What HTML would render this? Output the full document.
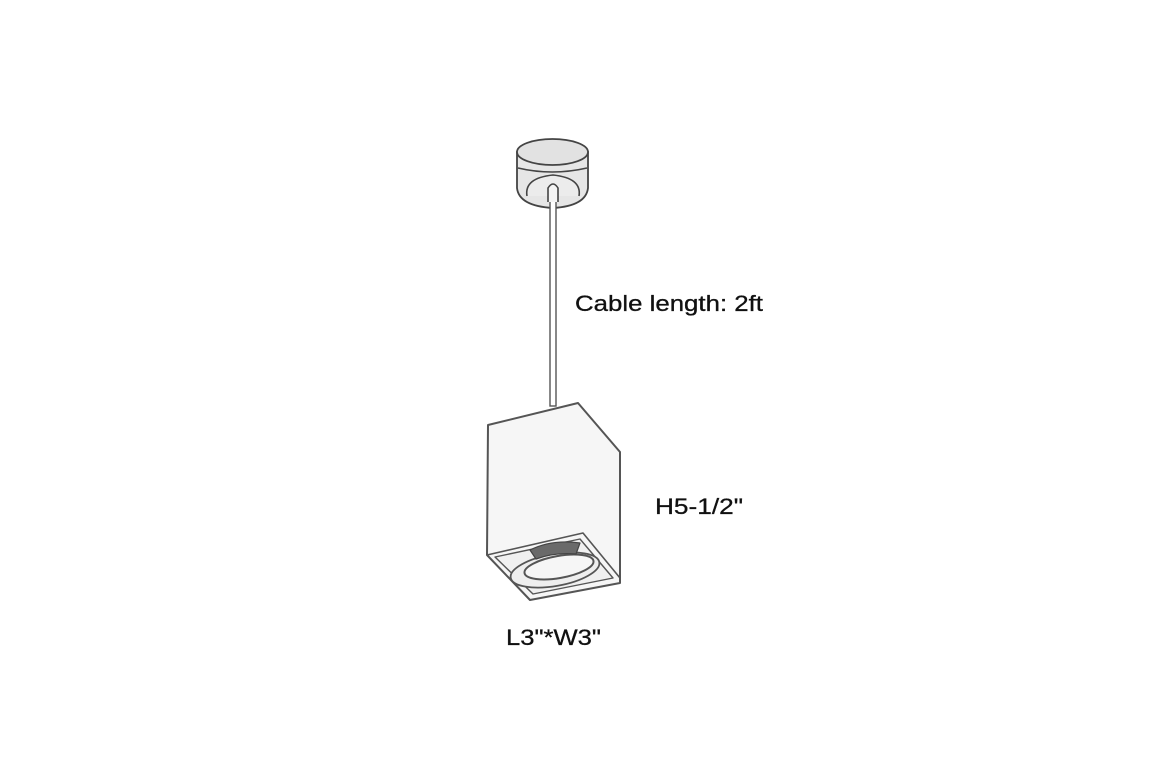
<!DOCTYPE html>
<html><head><meta charset="utf-8"><style>
html,body{margin:0;padding:0;background:#fff;}
svg{display:block;}
text{font-family:"Liberation Sans",Arial,sans-serif;fill:#111;stroke:#111;stroke-width:0.3;}
</style></head><body>
<svg width="1150" height="775" viewBox="0 0 1150 775" xmlns="http://www.w3.org/2000/svg">
<g stroke="#444" stroke-width="1.8" fill="#e6e6e6">
<path d="M517,152 L517,188 Q519,206 553,208 Q586,206 588,188 L588,152 Z"/>
<ellipse cx="552.5" cy="152" rx="35.5" ry="13" fill="#e2e2e2"/>
<path d="M518,168 Q552,176 587,168" fill="none" stroke-width="1.6"/>
<path d="M527,196 Q524,178 553,175 Q582,178 579,196" fill="#ececec" stroke-width="1.6"/>
</g>
<rect x="550" y="190" width="6" height="216" fill="#fff" stroke="#555" stroke-width="1.4"/>
<path d="M548,202 L548,188 Q553,180 558,188 L558,202" fill="#f4f4f4" stroke="#444" stroke-width="1.6"/>
<g stroke="#555" stroke-width="2" stroke-linejoin="round">
<path d="M488,425 L578,403 L620,452 L620,583 L530,600 L487,555 Z" fill="#f6f6f6"/>
<path d="M487,555 L583,533 L620,578" fill="none" stroke-width="1.6"/>
<path d="M495,557 L580,539 L613,578 L533,594 Z" fill="#f0f0f0" stroke-width="1.4"/>
<ellipse cx="555" cy="570" rx="45" ry="16" fill="#eee" stroke-width="1.8" transform="rotate(-10 555 570)"/>
<ellipse cx="559" cy="567" rx="35" ry="11" fill="#f6f6f6" stroke-width="2" transform="rotate(-10 559 567)"/>
<path d="M530,550 Q552,539 580,543 L576,554 Q555,552 536,559 Z" fill="#6a6a6a" stroke="#444" stroke-width="1.2"/>
</g>
<text x="575" y="311" font-size="22" textLength="188" lengthAdjust="spacingAndGlyphs">Cable length: 2ft</text>
<text x="655" y="514" font-size="22" textLength="88" lengthAdjust="spacingAndGlyphs">H5-1/2"</text>
<text x="506" y="645" font-size="22" textLength="95" lengthAdjust="spacingAndGlyphs">L3"*W3"</text>
</svg>
</body></html>
